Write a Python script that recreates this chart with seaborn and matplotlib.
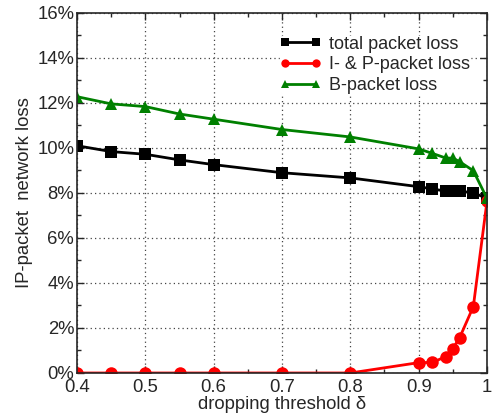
import matplotlib
matplotlib.use("Agg")
import matplotlib.pyplot as plt
import seaborn as sns
import pandas as pd
from matplotlib.ticker import MultipleLocator, FuncFormatter

thresholds = [0.4, 0.45, 0.5, 0.55, 0.6, 0.7, 0.8, 0.9, 0.92, 0.94, 0.95, 0.96, 0.98, 1.0]
total_loss = [10.10, 9.84, 9.72, 9.47, 9.26, 8.90, 8.67, 8.28, 8.18, 8.08, 8.10, 8.08, 8.01, 7.76]
ip_loss = [0.0, 0.0, 0.0, 0.0, 0.0, 0.0, 0.0, 0.46, 0.47, 0.73, 1.08, 1.57, 2.95, 7.63]
b_loss = [12.28, 11.96, 11.84, 11.51, 11.28, 10.82, 10.49, 9.96, 9.76, 9.55, 9.55, 9.39, 8.99, 7.76]

series_names = ["total packet loss", "I- & P-packet loss", "B-packet loss"]
colors = ["black", "red", "green"]
markers = ["s", "o", "^"]

df = pd.concat([
    pd.DataFrame({"threshold": thresholds, "loss": vals, "series": name})
    for name, vals in zip(series_names, [total_loss, ip_loss, b_loss])
])

sns.set_style("ticks")
plt.rcParams['font.family'] = ['Liberation Sans', 'DejaVu Sans']
FS = 13.3

fig = plt.figure(figsize=(4.95, 4.16), dpi=100)
ax = fig.add_axes([0.1556, 0.1034, 0.8282, 0.8654])

sns.lineplot(data=df, x="threshold", y="loss", hue="series", style="series",
             hue_order=series_names, style_order=series_names,
             palette=dict(zip(series_names, colors)),
             markers=dict(zip(series_names, markers)), dashes=False,
             markersize=9, markeredgewidth=0, linewidth=2, ax=ax, sort=False)

ax.set_xlim(0.4, 1.0)
ax.set_ylim(0, 16)
ax.xaxis.set_major_locator(MultipleLocator(0.1))
ax.xaxis.set_minor_locator(MultipleLocator(0.05))
ax.yaxis.set_major_locator(MultipleLocator(2))
ax.yaxis.set_minor_locator(MultipleLocator(1))
ax.xaxis.set_major_formatter(FuncFormatter(lambda v, p: "1" if abs(v - 1) < 1e-9 else f"{v:.1f}"))
ax.yaxis.set_major_formatter(FuncFormatter(lambda v, p: f"{v:.0f}%"))
ax.tick_params(which="both", direction="in", top=True, right=True, labelsize=FS)
ax.tick_params(axis="x", pad=4)
ax.tick_params(axis="y", pad=2)
ax.tick_params(which="major", length=5, width=1)
ax.tick_params(which="minor", length=3, width=1)
for s in ax.spines.values():
    s.set_linewidth(1.2)
ax.grid(True, which="major", linestyle=(0, (1, 2.5)), color="#444444", linewidth=0.9)
ax.set_xlabel("dropping threshold δ", fontsize=FS, labelpad=0)
ax.set_ylabel("IP-packet  network loss", fontsize=FS, labelpad=3)

leg = ax.legend(loc="upper left", bbox_to_anchor=(0.495, 0.937), frameon=True, fontsize=13,
                numpoints=2, handlelength=2.3, handletextpad=0.4, labelspacing=0.2,
                borderpad=0.0, borderaxespad=0.0)
leg.get_frame().set_facecolor("white")
leg.get_frame().set_edgecolor("white")
leg.get_frame().set_alpha(1)
for h in leg.legend_handles:
    h.set_markersize(6)

fig.savefig("out.png", dpi=100)
